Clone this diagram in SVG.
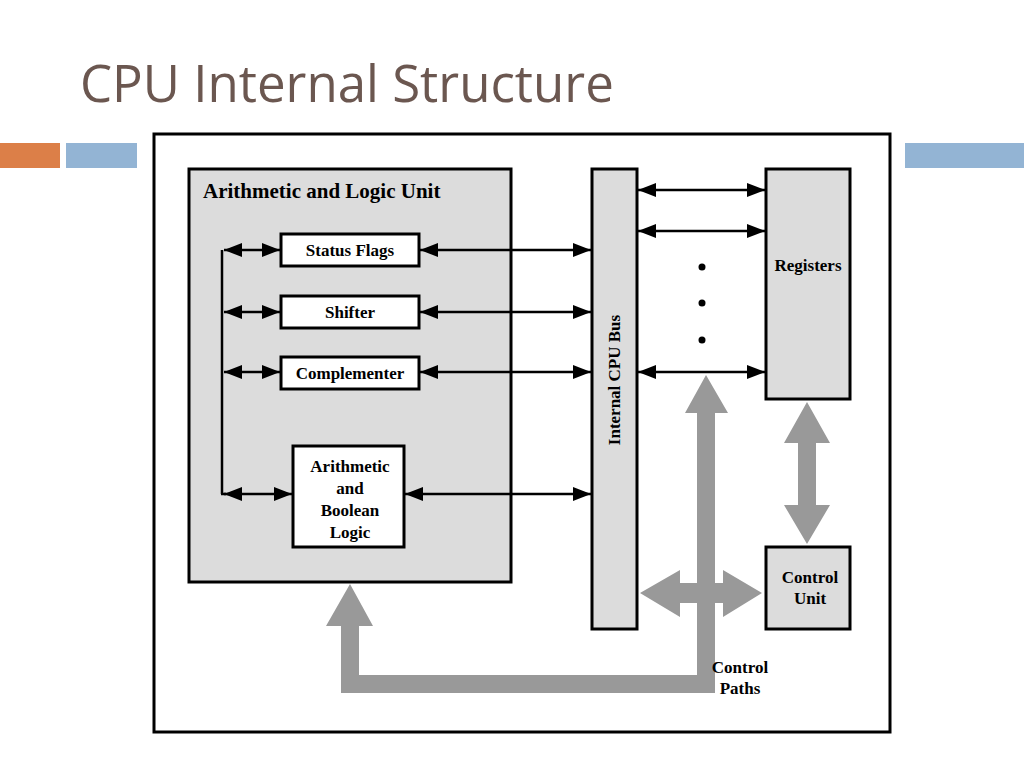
<svg xmlns="http://www.w3.org/2000/svg" width="1024" height="768" viewBox="0 0 1024 768">
<style>
.b{stroke:#000;stroke-width:3}
.t{font-family:"Liberation Serif",serif;font-weight:bold;font-size:17px;fill:#000}
.h{font-size:21px}
.c{stroke:#000;stroke-width:2.5;fill:none;marker-start:url(#ah);marker-end:url(#ah)}
.g{fill:#999}
</style>
<defs>
<marker id="ah" viewBox="0 0 10 10" refX="10" refY="5" markerWidth="18" markerHeight="14" markerUnits="userSpaceOnUse" orient="auto-start-reverse" preserveAspectRatio="none">
<path d="M0,0L10,5L0,10z" fill="#000"/>
</marker>
</defs>
<rect width="1024" height="768" fill="#fff"/>
<text x="80" y="102" font-family="'Open Sans',sans-serif" font-size="51" fill="#6b5750">CPU Internal Structure</text>
<rect x="0" y="143" width="60" height="25" fill="#dc7f48"/>
<rect x="66" y="143" width="71" height="25" fill="#93b4d4"/>
<rect x="905" y="143" width="119" height="25" fill="#93b4d4"/>
<rect x="154" y="134" width="736" height="598" fill="#fff" class="b"/>
<g id="alu"><rect x="189" y="169" width="322" height="413" fill="#dcdcdc" class="b"/>
<text x="203" y="198" class="t h">Arithmetic and Logic Unit</text></g>
<g id="flags"><rect x="281" y="234" width="138" height="32" fill="#fff" class="b"/><text x="350" y="256" class="t" text-anchor="middle">Status Flags</text></g>
<g id="shifter"><rect x="281" y="296" width="138" height="32" fill="#fff" class="b"/><text x="350" y="318" class="t" text-anchor="middle">Shifter</text></g>
<g id="comp"><rect x="281" y="357" width="138" height="32" fill="#fff" class="b"/><text x="350" y="379" class="t" text-anchor="middle">Complementer</text></g>
<g id="arith"><rect x="293" y="446" width="111" height="101" fill="#fff" class="b"/>
<text class="t" text-anchor="middle"><tspan x="350" y="472">Arithmetic</tspan><tspan x="350" y="494">and</tspan><tspan x="350" y="516">Boolean</tspan><tspan x="350" y="538">Logic</tspan></text></g>
<g id="bus"><rect x="592" y="169" width="45" height="460" fill="#dcdcdc" class="b"/>
<text transform="translate(620,380) rotate(-90)" class="t" text-anchor="middle">Internal CPU Bus</text></g>
<g id="regs"><rect x="766" y="169" width="84" height="230" fill="#dcdcdc" class="b"/><text x="808" y="271" class="t" text-anchor="middle">Registers</text></g>
<g id="cu"><rect x="766" y="547" width="84" height="82" fill="#dcdcdc" class="b"/>
<text class="t" text-anchor="middle"><tspan x="810" y="583">Control</tspan><tspan x="810" y="604">Unit</tspan></text></g>
<g id="connectors">
<line x1="222" y1="250" x2="222" y2="494" stroke="#000" stroke-width="2.5"/>
<line class="c" x1="224" y1="250" x2="280" y2="250"/>
<line class="c" x1="224" y1="312" x2="280" y2="312"/>
<line class="c" x1="224" y1="372" x2="280" y2="372"/>
<line class="c" x1="224" y1="494" x2="292" y2="494"/>
<line x1="221" y1="494" x2="226" y2="494" stroke="#000" stroke-width="2.5"/>
<line class="c" x1="420" y1="250" x2="591" y2="250"/>
<line class="c" x1="420" y1="312" x2="591" y2="312"/>
<line class="c" x1="420" y1="372" x2="591" y2="372"/>
<line class="c" x1="405" y1="494" x2="591" y2="494"/>
<line class="c" x1="638" y1="190" x2="765" y2="190"/>
<line class="c" x1="638" y1="231" x2="765" y2="231"/>
<line class="c" x1="638" y1="372" x2="765" y2="372"/>
<circle cx="702" cy="267" r="3.5"/><circle cx="702" cy="303" r="3.5"/><circle cx="702" cy="340" r="3.5"/>
<path class="g" d="M706,375L728,413L715,413L715,583L723,583L723,570L762,593L723,617L723,603L715,603L715,693L341,693L341,626L326,626L350,584L373,626L359,626L359,675L697,675L697,603L680,603L680,617L640,593L680,570L680,583L697,583L697,413L685,413z"/>
<path class="g" d="M807,402L830,443L816,443L816,505L830,505L807,544L784,505L798,505L798,443L784,443z"/>
<text class="t" text-anchor="middle"><tspan x="740" y="673">Control</tspan><tspan x="740" y="694">Paths</tspan></text>
</g>
</svg>
